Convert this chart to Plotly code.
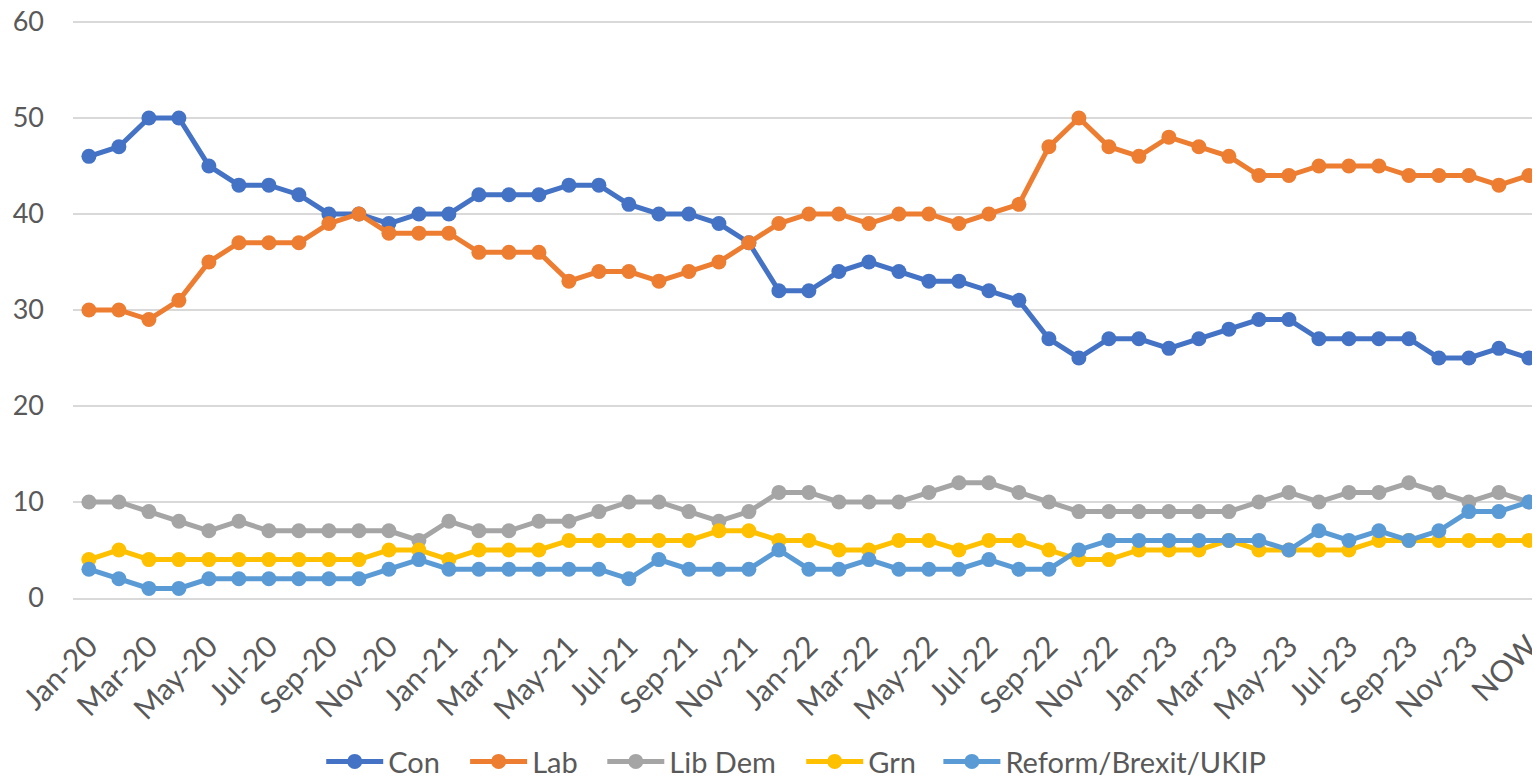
import plotly.graph_objects as go

months = ["Jan", "Feb", "Mar", "Apr", "May", "Jun", "Jul", "Aug", "Sep", "Oct", "Nov", "Dec"]
years = ["20", "21", "22", "23"]
categories = [f"{m}-{y}" for y in years for m in months] + ["NOW"]

con = [46, 47, 50, 50, 45, 43, 43, 42, 40, 40, 39, 40, 40, 42, 42, 42, 43, 43, 41, 40, 40, 39, 37,
       32, 32, 34, 35, 34, 33, 33, 32, 31, 27, 25, 27, 27, 26, 27, 28, 29, 29, 27, 27, 27, 27, 25, 25, 26, 25]
lab = [30, 30, 29, 31, 35, 37, 37, 37, 39, 40, 38, 38, 38, 36, 36, 36, 33, 34, 34, 33, 34, 35, 37, 39,
       40, 40, 39, 40, 40, 39, 40, 41, 47, 50, 47, 46, 48, 47, 46, 44, 44, 45, 45, 45, 44, 44, 44, 43, 44]
libdem = [10, 10, 9, 8, 7, 8, 7, 7, 7, 7, 7, 6, 8, 7, 7, 8, 8, 9, 10, 10, 9, 8, 9, 11, 11, 10, 10, 10,
          11, 12, 12, 11, 10, 9, 9, 9, 9, 9, 9, 10, 11, 10, 11, 11, 12, 11, 10, 11, 10]
grn = [4, 5, 4, 4, 4, 4, 4, 4, 4, 4, 5, 5, 4, 5, 5, 5, 6, 6, 6, 6, 6, 7, 7, 6, 6, 5, 5, 6, 6, 5, 6, 6,
       5, 4, 4, 5, 5, 5, 6, 5, 5, 5, 5, 6, 6, 6, 6, 6, 6]
reform = [3, 2, 1, 1, 2, 2, 2, 2, 2, 2, 3, 4, 3, 3, 3, 3, 3, 3, 2, 4, 3, 3, 3, 5, 3, 3, 4, 3, 3, 3, 4, 3,
          3, 5, 6, 6, 6, 6, 6, 6, 5, 7, 6, 7, 6, 7, 9, 9, 10]

series_names = ["Con", "Lab", "Lib Dem", "Grn", "Reform/Brexit/UKIP"]
series_values = [con, lab, libdem, grn, reform]
series_colors = ["#4472C4", "#ED7D31", "#A5A5A5", "#FFC000", "#5B9BD5"]
# legend entry left positions (paper fraction)
legend_x = [0.1692, 0.2673, 0.3608, 0.4964, 0.5899]

yticks = [0, 10, 20, 30, 40, 50, 60]

FONT = "Lato, 'Open Sans', sans-serif"
TEXT = "#595959"

fig = go.Figure()
legend_layouts = {}
for i, (name, vals, color) in enumerate(zip(series_names, series_values, series_colors)):
    lname = "legend" if i == 0 else f"legend{i + 1}"
    fig.add_trace(go.Scatter(
        x=categories, y=vals, name=name, mode="lines+markers",
        line=dict(color=color, width=5),
        marker=dict(color=color, size=15),
        legend=lname,
    ))
    legend_layouts[lname] = dict(
        orientation="h", x=legend_x[i], xanchor="left", y=-0.283, yanchor="middle",
        font=dict(family=FONT, size=29, color=TEXT), itemwidth=57,
        bgcolor="rgba(0,0,0,0)", borderwidth=0,
    )

fig.update_layout(
    width=1532, height=769,
    margin=dict(l=65, r=0, t=12, b=179, autoexpand=False),
    paper_bgcolor="white", plot_bgcolor="white",
    font=dict(family=FONT, size=27, color=TEXT),
    showlegend=True,
    xaxis=dict(
        type="category", range=[-0.53, 48.37],
        tickmode="array", tickvals=categories[::2], ticktext=categories[::2],
        tickangle=-45, showgrid=False, zeroline=False,
        showline=True, linecolor="#D9D9D9", linewidth=1.5,
        ticks="", automargin=False, ticklabelstandoff=17,
        ticklabeloverflow="allow",
        tickfont=dict(family=FONT, size=30, color=TEXT),
    ),
    yaxis=dict(
        range=[0, 60.2], tickmode="array", tickvals=yticks,
        showgrid=True, gridcolor="#D9D9D9", gridwidth=1.5,
        zeroline=False, showline=False, ticks="", automargin=False,
        ticklabelstandoff=28, ticklabeloverflow="allow",
        tickfont=dict(family=FONT, size=27, color=TEXT),
    ),
    **legend_layouts,
)

fig.write_html("out.html")
